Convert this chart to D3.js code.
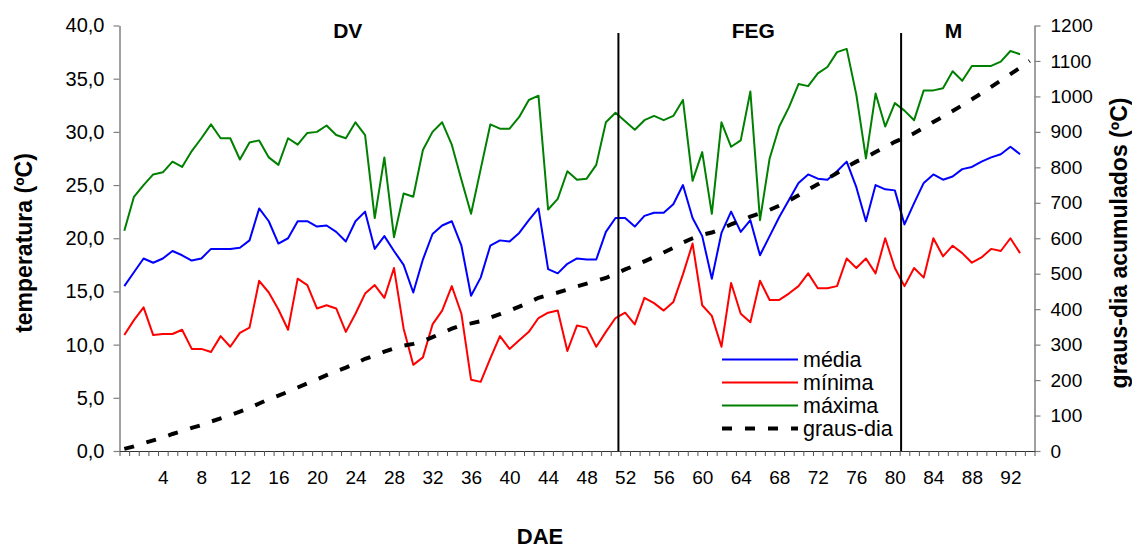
<!DOCTYPE html>
<html>
<head>
<meta charset="utf-8">
<script src="https://cdn.jsdelivr.net/npm/d3@7"></script>
<style>
  html, body { margin: 0; padding: 0; background: #fff; }
  svg { display: block; font-family: "Liberation Sans", Arial, sans-serif; }
</style>
</head>
<body>
<svg id="chart" width="1132" height="548"></svg>
<script>
// ---------- DATA ----------
const days = d3.range(0, 95); // categories: DAE 0..94
const xTickLabels = ["4","8","12","16","20","24","28","32","36","40","44","48","52","56","60","64","68","72","76","80","84","88","92"];
const yLeftTicks = [0, 5, 10, 15, 20, 25, 30, 35, 40];
const yRightTicks = [0, 100, 200, 300, 400, 500, 600, 700, 800, 900, 1000, 1100, 1200];
const seriesNames = ["média", "mínima", "máxima", "graus-dia"];
const phaseNames = ["DV", "FEG", "M"];
const phaseBoundaries = [51.3, 80.65]; // DAE where the phase lines are drawn

const media = [15.5,16.8,18.1,17.7,18.1,18.8,18.4,17.9,18.1,19.0,
  19.0,19.0,19.1,19.8,22.8,21.6,19.5,20.0,21.6,21.6,
  21.1,21.2,20.6,19.7,21.6,22.5,19.0,20.2,18.8,17.5,
  14.9,18.0,20.4,21.2,21.6,19.3,14.6,16.3,19.3,19.8,
  19.7,20.5,21.7,22.8,17.1,16.7,17.6,18.1,18.0,18.0,
  20.6,21.9,21.9,21.1,22.1,22.4,22.4,23.2,25.0,21.9,
  20.2,16.2,20.5,22.5,20.6,21.7,18.4,20.2,22.0,23.6,
  25.2,26.0,25.6,25.5,26.3,27.2,24.8,21.6,25.0,24.6,
  24.5,21.3,23.3,25.2,26.0,25.5,25.8,26.5,26.7,27.2,
  27.6,27.9,28.6,27.9];

const minima = [10.9,12.3,13.5,10.9,11.0,11.0,11.4,9.6,9.6,9.3,
  10.8,9.8,11.1,11.6,16.0,14.9,13.3,11.4,16.2,15.6,
  13.4,13.7,13.4,11.2,12.9,14.8,15.6,14.4,17.2,11.5,
  8.1,8.8,11.9,13.2,15.5,12.9,6.7,6.5,8.7,10.8,
  9.6,10.4,11.2,12.5,13.0,13.2,9.4,11.8,11.6,9.8,
  11.2,12.5,13.0,11.9,14.4,13.9,13.2,14.0,16.6,19.5,
  13.7,12.7,9.8,15.8,12.9,12.1,16.0,14.2,14.2,14.8,
  15.5,16.7,15.3,15.3,15.5,18.1,17.2,18.1,16.7,20.0,
  17.2,15.5,17.2,16.3,20.0,18.3,19.3,18.6,17.7,18.2,
  19.0,18.8,20.0,18.6];

const maxima = [20.7,23.9,25.0,26.0,26.2,27.2,26.7,28.2,29.4,30.7,
  29.4,29.4,27.4,29.0,29.2,27.6,26.9,29.4,28.8,29.9,
  30.0,30.6,29.7,29.4,30.9,29.7,21.9,27.6,20.1,24.2,
  23.9,28.3,30.0,30.9,28.8,25.5,22.3,26.5,30.7,30.3,
  30.3,31.4,33.0,33.4,22.7,23.7,26.3,25.5,25.6,26.9,
  30.9,31.8,31.0,30.2,31.1,31.5,31.1,31.5,33.0,25.4,
  28.1,22.3,30.9,28.6,29.2,33.8,21.7,27.5,30.5,32.3,
  34.5,34.3,35.5,36.1,37.5,37.8,33.5,27.5,33.6,30.5,
  32.7,32.0,31.1,33.9,33.9,34.1,35.7,34.8,36.2,36.2,
  36.2,36.6,37.6,37.3];

const grausDia = [6,13,22,30,38,48,56,65,73,83,
  92,101,111,121,134,146,156,167,179,191,
  202,214,225,235,247,260,269,280,289,297,
  302,310,321,333,345,355,360,366,376,386,
  396,407,419,432,440,447,455,464,472,480,
  488,500,512,523,535,547,560,573,588,600,
  610,616,627,639,650,661,670,680,692,706,
  721,737,752,768,784,801,816,828,843,857,
  872,883,896,912,928,943,959,975,992,1009,
  1027,1045,1063,1081,1100];

(function () {
// ---------- LAYOUT ----------
const svg = d3.select("#chart");
const pLeft = 119.5, pRight = 1034.5, pTop = 25.5, pBottom = 451;

const x = d3.scaleLinear().domain([-0.5, days.length - 0.5]).range([pLeft, pRight]);
const yL = d3.scaleLinear().domain([0, 40]).range([pBottom, pTop]);
const yR = d3.scaleLinear().domain([0, 1200]).range([pBottom, pTop]);
const FONT = "Liberation Sans, Arial, sans-serif";

// ---------- AXES ----------
const axL = svg.append("g").attr("transform", `translate(${pLeft},0)`)
  .call(d3.axisLeft(yL).tickValues(yLeftTicks).tickSize(6).tickSizeOuter(0).tickPadding(9)
    .tickFormat(d => d.toFixed(1).replace(".", ",")));
axL.selectAll("text").attr("font-size", 20).attr("fill", "#000").attr("font-family", FONT);
axL.select(".domain").attr("stroke", "#808080").attr("stroke-width", 1.5);
axL.selectAll(".tick line").attr("stroke", "#808080").attr("stroke-width", 1.2);

const axR = svg.append("g").attr("transform", `translate(${pRight},0)`)
  .call(d3.axisRight(yR).tickValues(yRightTicks).tickSize(6).tickSizeOuter(0).tickPadding(10)
    .tickFormat(d3.format("d")));
axR.selectAll("text").attr("font-size", 19).attr("fill", "#000").attr("font-family", FONT);
axR.select(".domain").attr("stroke", "#808080").attr("stroke-width", 1.5);
axR.selectAll(".tick line").attr("stroke", "#808080").attr("stroke-width", 1.2);

// x axis: ticks at category boundaries
const boundaries = d3.range(-0.5, days.length, 1);
const axB = svg.append("g").attr("transform", `translate(0,${pBottom})`)
  .call(d3.axisBottom(x).tickValues(boundaries).tickSize(5).tickSizeOuter(0).tickFormat(""));
axB.select(".domain").attr("stroke", "#333").attr("stroke-width", 1.2);
axB.selectAll(".tick line").attr("stroke", "#555").attr("stroke-width", 1);

const axBL = svg.append("g").attr("transform", `translate(0,${pBottom})`)
  .call(d3.axisBottom(x).tickValues(xTickLabels.map(Number)).tickSize(0).tickPadding(20)
    .tickFormat(d => xTickLabels[xTickLabels.indexOf(String(d))]));
axBL.select(".domain").remove();
axBL.selectAll("text").attr("font-size", 19).attr("fill", "#000").attr("font-family", FONT);

// ---------- SERIES ----------
const lineL = d3.line().x((d, i) => x(days[i])).y(d => yL(d));
const lineR = d3.line().x((d, i) => x(days[i])).y(d => yR(d));

const tempSeries = [
  { values: media, color: "#0000ff" },
  { values: minima, color: "#ff0000" },
  { values: maxima, color: "#008000" }
];
svg.append("g").selectAll("path").data(tempSeries).join("path")
  .attr("d", d => lineL(d.values))
  .attr("fill", "none").attr("stroke", d => d.color)
  .attr("stroke-width", 2).attr("stroke-linejoin", "round");

svg.append("path").attr("d", lineR(grausDia))
  .attr("fill", "none").attr("stroke", "#000")
  .attr("stroke-width", 4).attr("stroke-dasharray", "10,13");

// ---------- PHASE LINES & LABELS ----------
svg.append("g").selectAll("line").data(phaseBoundaries).join("line")
  .attr("x1", d => x(d)).attr("x2", d => x(d))
  .attr("y1", 33).attr("y2", pBottom)
  .attr("stroke", "#000").attr("stroke-width", 2);

const phaseLabelDays = [23.2, 65.3, 86.1];
svg.append("g").selectAll("text").data(phaseNames).join("text")
  .attr("x", (d, i) => x(phaseLabelDays[i])).attr("y", 38)
  .attr("text-anchor", "middle").attr("font-weight", "bold").attr("font-size", 21)
  .text(d => d);

// ---------- LEGEND ----------
const legColors = ["#0000ff", "#ff0000", "#008000", "#000"];
const legY = [359.5, 382.5, 405.5, 428.5];
const leg = svg.append("g");
seriesNames.forEach((name, i) => {
  const isDash = i === 3;
  leg.append("line")
    .attr("x1", 722).attr("x2", 798).attr("y1", legY[i]).attr("y2", legY[i])
    .attr("stroke", legColors[i]).attr("stroke-width", isDash ? 4 : 2)
    .attr("stroke-dasharray", isDash ? "10,13" : null);
  leg.append("text").attr("x", 803).attr("y", legY[i] + 7)
    .attr("font-size", 21.5).attr("fill", "#000").text(name);
});

// ---------- TITLES ----------
svg.append("text").attr("transform", "translate(24,243) rotate(-90)")
  .attr("text-anchor", "middle").attr("dominant-baseline", "central")
  .attr("font-weight", "bold").attr("font-size", 23).text("temperatura (ºC)");
svg.append("text").attr("transform", "translate(1119,243) rotate(-90)")
  .attr("text-anchor", "middle").attr("dominant-baseline", "central")
  .attr("font-weight", "bold").attr("font-size", 23).text("graus-dia acumulados (ºC)");
svg.append("text").attr("x", 540).attr("y", 544)
  .attr("text-anchor", "middle").attr("font-weight", "bold").attr("font-size", 22).text("DAE");
})();
</script>
</body>
</html>
